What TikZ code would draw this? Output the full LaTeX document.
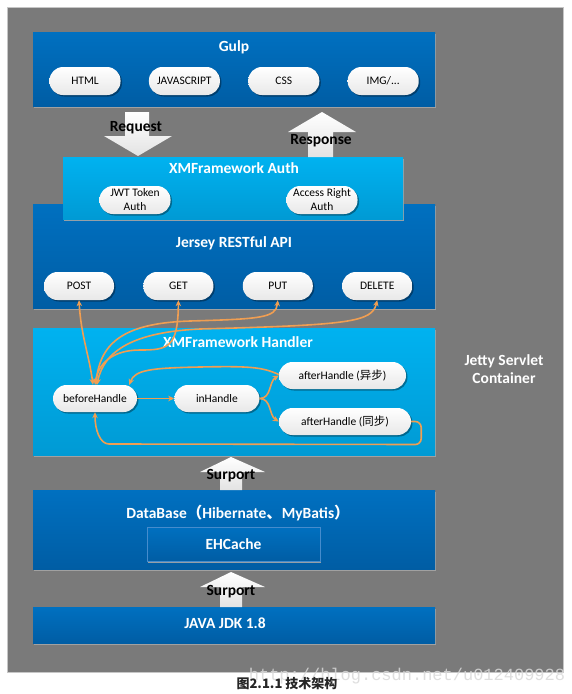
\documentclass[tikz,border=0pt]{standalone}
\usepackage{fontspec}
\setmainfont{Carlito}
\newfontfamily\cjk{Noto Sans CJK SC}
\newfontfamily\markfont{Liberation Mono}
\usetikzlibrary{arrows.meta, positioning, shadows}

\definecolor{servletgray}{RGB}{122,122,122}
\definecolor{layertop}{RGB}{0,112,192}
\definecolor{layerbot}{RGB}{0,93,164}
\definecolor{authtop}{RGB}{0,178,240}
\definecolor{authbot}{RGB}{0,154,212}
\definecolor{ehborder}{RGB}{70,140,205}
\definecolor{flow}{RGB}{240,158,82}

\begin{document}
\begin{tikzpicture}[
        x=1pt, y=-1pt,
        % Capas principales
        layer/.style={
                rectangle,
                inner sep=0pt,
                anchor=north west,
                top color=layertop,
                bottom color=layerbot,
                drop shadow={shadow xshift=1pt, shadow yshift=-1.5pt, fill=gray!70, opacity=0.9}
            },
        authlayer/.style={
                layer,
                top color=authtop,
                bottom color=authbot
            },
        % Titulos de las capas
        title/.style={
                font=\fontsize{15.5}{18}\selectfont\bfseries,
                text=white,
                inner sep=0pt
            },
        % Botones redondeados
        pill/.style={
                rectangle,
                rounded corners=13.5pt,
                minimum width=71pt,
                minimum height=28pt,
                inner sep=0pt,
                align=center,
                font=\fontsize{11.5}{14}\selectfont,
                text=black,
                top color=white,
                bottom color=gray!18,
                drop shadow={shadow xshift=1.5pt, shadow yshift=-1.5pt, fill=black, opacity=0.35}
            },
        % Flechas grandes entre capas
        bigarrow/.style={
                top color=white,
                bottom color=gray!22,
                draw=none
            },
        arrowlabel/.style={
                font=\fontsize{15.5}{18}\selectfont\bfseries,
                text=black,
                inner sep=0pt
            },
        % Flechas del handler
        conn/.style={
                draw=flow,
                line width=1.6pt,
                -{Stealth[length=6pt, width=5.5pt]}
            },
        connboth/.style={
                conn,
                {Stealth[length=6pt, width=5.5pt]}-{Stealth[length=6pt, width=5.5pt]}
            }
    ]

    % Fondo
    \useasboundingbox (0,0) rectangle (572,694);
    \fill[white] (0,0) rectangle (572,694);
    \fill[servletgray, draw=gray!45] (7,7) rectangle (563,672);

    % Gulp
    \node[layer, minimum width=402pt, minimum height=74pt] (gulp) at (33,32) {};
    \node[title] (gulptitle) at (234,47) {Gulp};
    \node[pill] (html) at (85,81) {HTML};
    \node[pill, right=28pt of html] (js) {JAVASCRIPT};
    \node[pill, right=28pt of js] (css) {CSS};
    \node[pill, right=28pt of css] (img) {IMG/...};

    % Jersey
    \node[layer, minimum width=402pt, minimum height=104pt] (jersey) at (33,204) {};
    \node[title] (jerseytitle) at (234,243) {Jersey RESTful API};
    \node[pill, minimum width=70pt] (post) at (79,286) {POST};
    \node[pill, minimum width=70pt, right=29pt of post] (get) {GET};
    \node[pill, minimum width=70pt, right=29pt of get] (put) {PUT};
    \node[pill, minimum width=70pt, right=29pt of put] (delete) {DELETE};

    % Auth
    \node[authlayer, minimum width=340pt, minimum height=62pt] (auth) at (63,157) {};
    \node[title] (authtitle) at (234,168) {XMFramework Auth};
    \node[pill] (jwt) at (135,200) {JWT Token\\Auth};
    \node[pill] (access) at (322,200) {Access Right\\Auth};

    % Request / Response
    \path[bigarrow] (125,112) -- (149,112) -- (149,136) -- (172,136) -- (138,156)
        -- (104,136) -- (125,136) -- cycle;
    \node[arrowlabel] (request) at (136,128) {Request};
    \path[bigarrow] (322,112) -- (356,132) -- (333,132) -- (333,157) -- (308,157)
        -- (308,132) -- (288,132) -- cycle;
    \node[arrowlabel] (response) at (321,141) {Response};

    % Handler
    \node[authlayer, minimum width=402pt, minimum height=127pt] (handler) at (33,328) {};
    \node[title] (handlertitle) at (238,342) {XMFramework Handler};
    \node[pill, minimum width=84pt, minimum height=27pt] (before) at (95,398.5) {beforeHandle};
    \node[pill, minimum width=85pt, minimum height=27pt, right=37pt of before] (in) {inHandle};
    \node[pill, minimum width=127pt, minimum height=27pt] (async) at (342.5,375.5) {afterHandle ({\cjk 异步})};
    \node[pill, minimum width=132pt, minimum height=27pt] (sync) at (345,421.5) {afterHandle ({\cjk 同步})};

    % Flechas del handler
    \draw[connboth] (post.south) .. controls +(2,35) and +(-4,-30) .. ([xshift=-2pt]before.north);
    \draw[connboth] (get.south) .. controls (178,348) and (168,350) .. (140,350)
        .. controls (112,350) and (98,364) .. (before.north);
    \draw[connboth] (put.south) .. controls (276,318) and (260,319) .. (190,321)
        .. controls (128,323) and (100,340) .. ([xshift=1pt]before.north);
    \draw[connboth] (delete.south) .. controls (372,322) and (350,325) .. (200,329)
        .. controls (135,332) and (104,350) .. ([xshift=2pt]before.north);
    \draw[conn] (before) -- (in);
    \draw[conn] (in.east) .. controls +(12,0) and +(-10,6) .. (async.west);
    \draw[conn] (in.east) .. controls +(12,0) and +(-10,-6) .. (sync.west);
    \draw[conn] ([yshift=1pt]async.west) .. controls (262,367) and (250,366) .. (200,367)
        .. controls (150,368) and (135,370) .. ([xshift=-8pt]before.north east);
    \draw[conn, rounded corners=6pt] (sync.east) -- ++(10,0) -- ++(0,23) -- (115,444)
        .. controls (100,444) and (95,430) .. (before.south);

    % DataBase
    \node[layer, minimum width=402pt, minimum height=79pt] (db) at (33,490) {};
    \node[title] (dbtitle) at (238,513) {DataBase{\cjk （}Hibernate{\cjk 、}MyBatis{\cjk ）}};
    \node[layer, anchor=center, minimum width=173pt, minimum height=34pt, draw=ehborder, line width=1pt] (ehcache) at (233.5,544) {};
    \node[title] (ehtitle) at (ehcache.center) {EHCache};

    % JDK
    \node[layer, minimum width=402pt, minimum height=36pt] (jdk) at (33,607) {};
    \node[title] (jdktitle) at (225,623) {JAVA JDK 1.8};

    % Surport
    \path[bigarrow] (231,457) -- (265,472) -- (242,472) -- (242,490) -- (220,490)
        -- (220,472) -- (200,472) -- cycle;
    \node[arrowlabel] (surport) at (231,476) {Surport};
    \path[bigarrow] (231,572) -- (265,587) -- (242,587) -- (242,607) -- (220,607)
        -- (220,587) -- (200,587) -- cycle;
    \node[arrowlabel] (surportjdk) at (231,592) {Surport};

    % Contenedor
    \node[title, align=center] (jetty) at (504,369) {Jetty Servlet\\Container};

    % Pie
    \node[font=\markfont\fontsize{17}{17}\selectfont, text=gray!30, opacity=0.85, inner sep=0pt] (watermark) at (407,676) {http://blog.csdn.net/u012409928};
    \node[font=\cjk\bfseries\fontsize{13}{15}\selectfont, text=black!85, inner sep=0pt] (caption) at (287,684) {图2.1.1 技术架构};

\end{tikzpicture}
\end{document}
